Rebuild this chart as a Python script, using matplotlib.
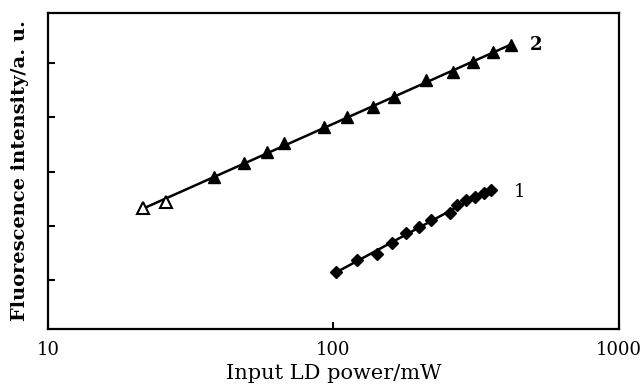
# fluorescence intensity vs input LD power (log x)
import matplotlib
matplotlib.use('Agg')
import matplotlib.pyplot as plt
import numpy as np
from matplotlib.ticker import FixedLocator, NullLocator, FixedFormatter

plt.rcParams['font.family'] = ['DejaVu Serif']

# 曲线 2（三角形）
power_2 = [21.6, 26.0, 38.3, 48.7, 58.6, 67.2, 92.6, 111.4, 138, 162.6,
           211.9, 263.4, 309, 363, 420]
intensity_2 = [2.33, 2.44, 2.90, 3.16, 3.36, 3.53, 3.82, 4.00, 4.19, 4.37,
               4.68, 4.83, 5.02, 5.20, 5.33]

# 曲线 1（菱形）
power_1 = [102, 120.8, 141.9, 160, 180.5, 200.4, 220.7, 257, 272, 292.4,
           314, 338, 357]
intensity_1 = [1.15, 1.37, 1.48, 1.68, 1.87, 1.98, 2.11, 2.24, 2.38, 2.48,
               2.53, 2.60, 2.66]

x_ticks = [10, 100, 1000]
x_tick_labels = ['10', '100', '1000']
y_ticks = [1, 2, 3, 4, 5]

fig = plt.figure(figsize=(6.41, 3.87), dpi=100)
ax = fig.add_axes([0.075, 0.15, 0.89, 0.816])

# 拟合直线（log x 与 y 线性）
for px, py in [(power_2, intensity_2), (power_1, intensity_1)]:
    lx = np.log10(px)
    k, b = np.polyfit(lx, py, 1)
    xs = np.array([min(lx), max(lx)])
    ax.plot(10 ** xs, k * xs + b, color='black', lw=1.8, zorder=2)

ax.plot(power_2[:2], intensity_2[:2], ls='none', marker='^', ms=8,
        mfc='white', mec='black', mew=1.5, zorder=3)
ax.plot(power_2[2:], intensity_2[2:], ls='none', marker='^', ms=8.5,
        color='black', zorder=3)
ax.plot(power_1, intensity_1, ls='none', marker='D', ms=6,
        color='black', zorder=3)

# 曲线编号
ax.text(490, 5.34, '2', fontsize=13, fontweight='bold', ha='left', va='center')
ax.text(430, 2.63, '1', fontsize=13, ha='left', va='center')

ax.set_xscale('log')
ax.set_xlim(10, 1000)
ax.set_ylim(0.1, 5.92)
ax.xaxis.set_major_locator(FixedLocator(x_ticks))
ax.xaxis.set_major_formatter(FixedFormatter(x_tick_labels))
ax.xaxis.set_minor_locator(NullLocator())
ax.yaxis.set_major_locator(FixedLocator(y_ticks))
ax.set_yticklabels([])
ax.tick_params(direction='in', length=5, width=1.5, labelsize=13, pad=9)

for s in ax.spines.values():
    s.set_linewidth(1.6)

ax.set_xlabel('Input LD power/mW', fontsize=15, labelpad=3)
ax.set_ylabel('Fluorescence intensity/a. u.', fontsize=14, fontweight='bold',
              labelpad=5)

fig.savefig('out.png', dpi=100)
